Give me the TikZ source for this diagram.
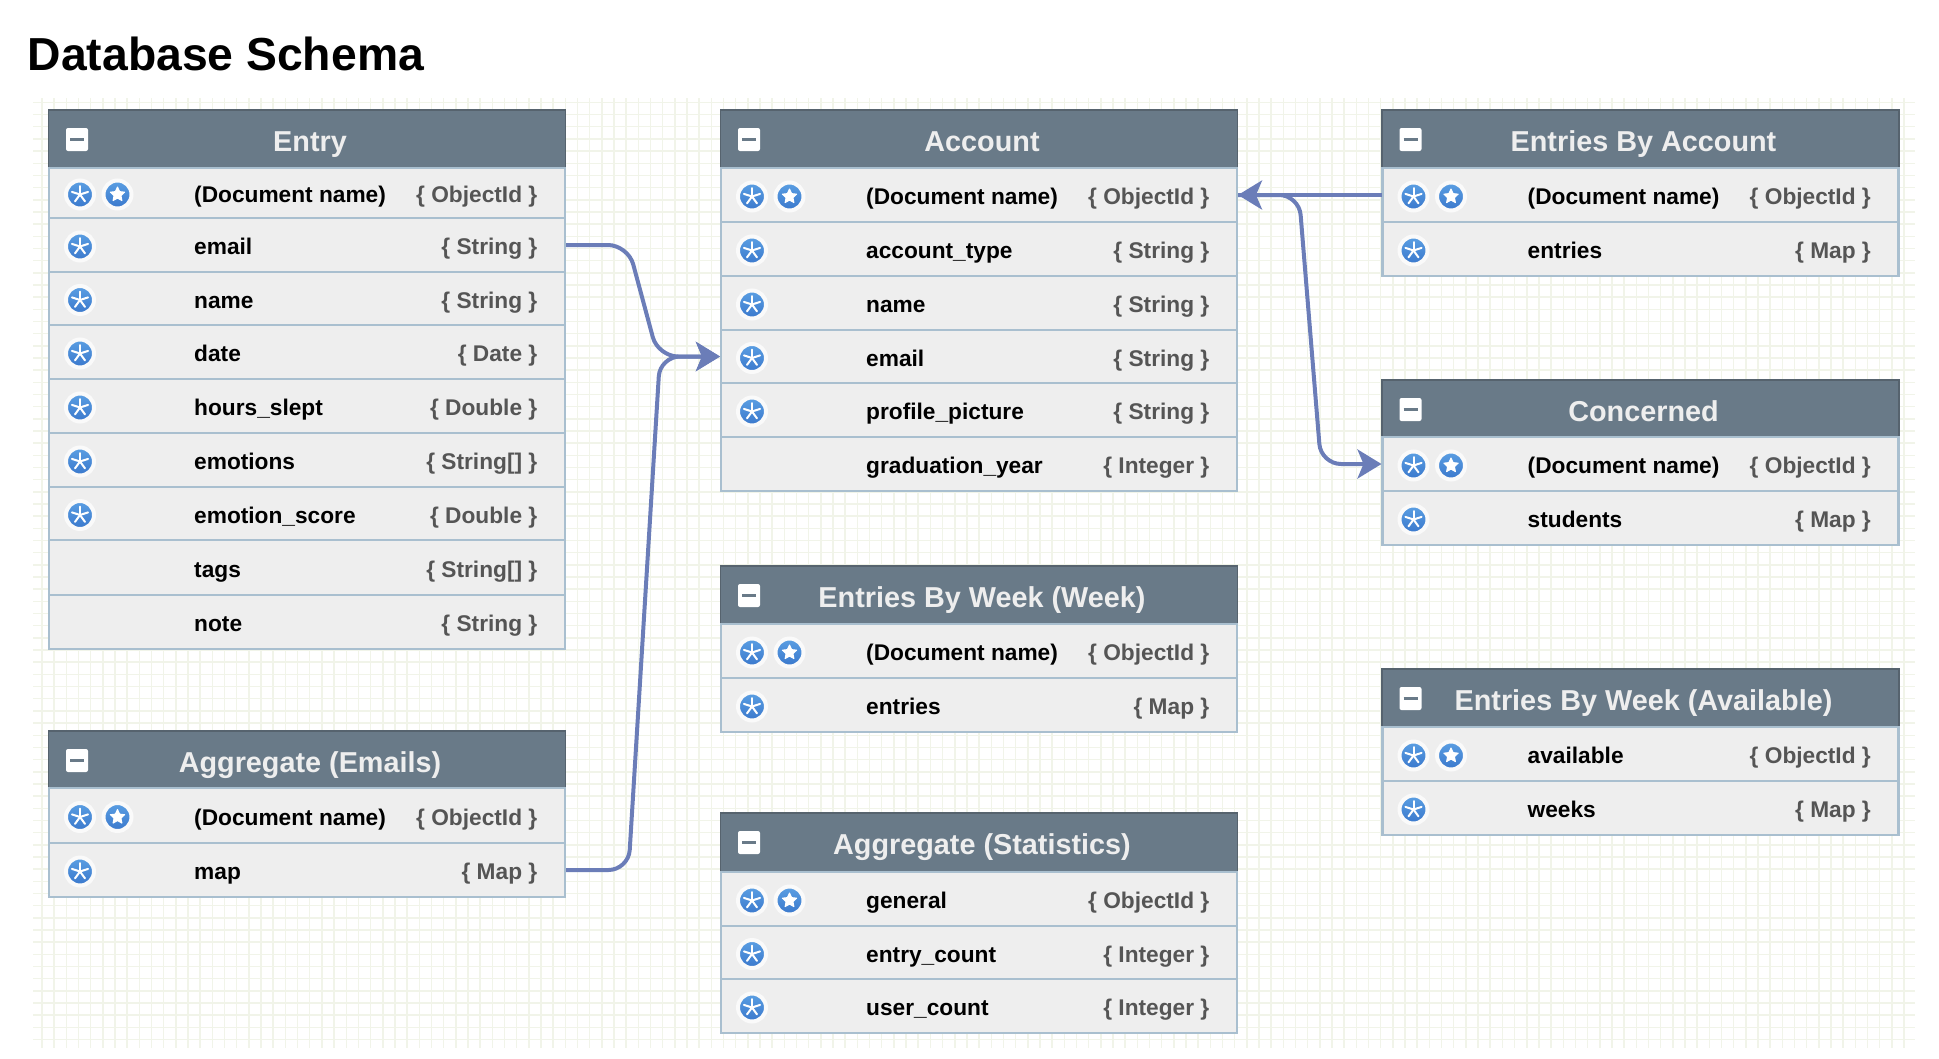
\documentclass[tikz,border=0pt]{standalone}
\usepackage{fontspec}
\setmainfont{Liberation Sans}
\usetikzlibrary{arrows.meta}
\definecolor{headc}{HTML}{697A88}
\definecolor{headedge}{HTML}{56636E}
\definecolor{rowc}{HTML}{EEEEEE}
\definecolor{rowedge}{HTML}{A9BFCF}
\definecolor{gridc}{HTML}{F1F4E9}
\definecolor{connc}{HTML}{6B7DB8}
\definecolor{typec}{HTML}{555555}
\definecolor{icontop}{HTML}{5B9FE3}
\definecolor{iconmid}{HTML}{7AB6EE}
\definecolor{iconbot}{HTML}{3A78CC}
\tikzset{
  gridline/.style={draw=gridc,line width=1.5pt},
  headbox/.style={rectangle,draw=headedge,line width=1.5pt,fill=headc,minimum width=517pt,inner sep=0pt,outer sep=0pt},
  rowbox/.style={rectangle,draw=rowedge,line width=2.5pt,fill=rowc,minimum width=516pt,inner sep=0pt,outer sep=1pt},
  headtext/.style={inner sep=0pt,anchor=base,text=rowc,font=\fontsize{28.8}{32}\selectfont\bfseries},
  nametext/.style={inner sep=0pt,anchor=base west,text=black,font=\fontsize{22.7}{27}\selectfont\bfseries},
  typetext/.style={inner sep=0pt,anchor=base east,text=typec,font=\fontsize{22.7}{27}\selectfont\bfseries},
  minusbtn/.style={rectangle,rounded corners=2pt,fill=white,minimum width=22pt,minimum height=23pt,inner sep=0pt,
    path picture={\draw[headc,line width=2.2pt] ([xshift=-7pt]path picture bounding box.center) -- ([xshift=7pt]path picture bounding box.center);}},
  iconbase/.style={circle,draw=white!70!rowc,line width=4pt,minimum size=28pt,inner sep=0pt,
    top color=icontop,middle color=iconmid,bottom color=iconbot,shading angle=0},
  asteriskicon/.style={iconbase,
    path picture={\foreach \a in {270,342,54,126,198}
      \draw[white,line width=2pt,line cap=round] (path picture bounding box.center) -- ++(\a:8.5);}},
  staricon/.style={iconbase,
    path picture={\fill[white,draw=white,line width=1pt,line join=round,shift={(path picture bounding box.center)}]
      (270:7.5)--(306:3.6)--(342:7.5)--(18:3.6)--(54:7.5)--(90:3.6)--(126:7.5)--(162:3.6)--(198:7.5)--(234:3.6)--cycle;}},
  conn/.style={draw=connc,line width=4pt,rounded corners=20pt},
  connarrow/.style={-{Stealth[length=24pt,width=29pt,inset=6pt]}},
}
% id, left x, top y, bottom y, title
\newcommand{\tblhead}[5]{%
  \pgfmathsetmacro{\hh}{#4-#3}%
  \node[headbox,minimum height=\hh pt] (#1) at ({#2+259},{(#3+#4)/2}) {};
  \node[minusbtn] (#1-btn) at ({#2+29},{#3+29.5}) {};
  \node[headtext] (#1-title) at ({#2+262},{#3+41}) {#5};
}
% id, left x, top y, bottom y, icons (0,1,2), name, type
\newcommand{\tblrow}[7]{%
  \pgfmathsetmacro{\hh}{#4-#3}%
  \node[rowbox,minimum height=\hh pt] (#1) at ({#2+259},{(#3+#4)/2}) {};
  \ifnum#5>0 \node[asteriskicon] (#1-ka) at ({#2+32},{(#3+#4)/2+1.5}) {};\fi
  \ifnum#5>1 \node[staricon] (#1-kb) at ({#2+69.5},{(#3+#4)/2+1.5}) {};\fi
  \node[nametext] (#1-name) at ({#2+146},{(#3+#4)/2+9.8}) {#6};
  \node[typetext] (#1-type) at ({#2+489.5},{(#3+#4)/2+9.8}) {\{ #7 \}};
}
\begin{document}
\begin{tikzpicture}[x=1pt,y=-1pt]
\useasboundingbox (0,0) rectangle (1939,1058);
% paper grid
\foreach \i in {0,...,153} \draw[gridline] ({42+12.17*\i},98) -- ({42+12.17*\i},1048);
\foreach \i in {0,...,77} \draw[gridline] (33,{102.4+12.17*\i}) -- (1915,{102.4+12.17*\i});
% title
\node[inner sep=0pt,anchor=base west,font=\fontsize{46.3}{50}\selectfont\bfseries] (title) at (27.5,70.5) {Database Schema};
% Entry
\tblhead{entry}{48}{110}{168}{Entry}
\tblrow{entry-doc}{48}{168}{218}{2}{(Document name)}{ObjectId}
\tblrow{entry-email}{48}{218}{272}{1}{email}{String}
\tblrow{entry-name}{48}{272}{325}{1}{name}{String}
\tblrow{entry-date}{48}{325}{379}{1}{date}{Date}
\tblrow{entry-hours}{48}{379}{433}{1}{hours\_slept}{Double}
\tblrow{entry-emo}{48}{433}{487}{1}{emotions}{String[]}
\tblrow{entry-score}{48}{487}{540}{1}{emotion\_score}{Double}
\tblrow{entry-tags}{48}{540}{595}{0}{tags}{String[]}
\tblrow{entry-note}{48}{595}{649}{0}{note}{String}
% Aggregate (Emails)
\tblhead{aggem}{48}{731}{788}{Aggregate (Emails)}
\tblrow{aggem-doc}{48}{788}{843}{2}{(Document name)}{ObjectId}
\tblrow{aggem-map}{48}{843}{897}{1}{map}{Map}
% Account
\tblhead{acct}{720}{110}{168}{Account}
\tblrow{acct-doc}{720}{168}{222}{2}{(Document name)}{ObjectId}
\tblrow{acct-type}{720}{222}{276}{1}{account\_type}{String}
\tblrow{acct-name}{720}{276}{330}{1}{name}{String}
\tblrow{acct-email}{720}{330}{383}{1}{email}{String}
\tblrow{acct-pic}{720}{383}{437}{1}{profile\_picture}{String}
\tblrow{acct-grad}{720}{437}{491}{0}{graduation\_year}{Integer}
% Entries By Week (Week)
\tblhead{ebw}{720}{566}{624}{Entries By Week (Week)}
\tblrow{ebw-doc}{720}{624}{678}{2}{(Document name)}{ObjectId}
\tblrow{ebw-entries}{720}{678}{732}{1}{entries}{Map}
% Aggregate (Statistics)
\tblhead{aggst}{720}{813}{872}{Aggregate (Statistics)}
\tblrow{aggst-gen}{720}{872}{926}{2}{general}{ObjectId}
\tblrow{aggst-entry}{720}{926}{979}{1}{entry\_count}{Integer}
\tblrow{aggst-user}{720}{979}{1033}{1}{user\_count}{Integer}
% Entries By Account
\tblhead{eba}{1381.5}{110}{168}{Entries By Account}
\tblrow{eba-doc}{1381.5}{168}{222}{2}{(Document name)}{ObjectId}
\tblrow{eba-entries}{1381.5}{222}{276}{1}{entries}{Map}
% Concerned
\tblhead{conc}{1381.5}{380}{437}{Concerned}
\tblrow{conc-doc}{1381.5}{437}{491}{2}{(Document name)}{ObjectId}
\tblrow{conc-students}{1381.5}{491}{545}{1}{students}{Map}
% Entries By Week (Available)
\tblhead{ebwa}{1381.5}{669}{727}{Entries By Week (Available)}
\tblrow{ebwa-avail}{1381.5}{727}{781}{2}{available}{ObjectId}
\tblrow{ebwa-weeks}{1381.5}{781}{835}{1}{weeks}{Map}
% connectors
\coordinate (m1a) at (628,245);
\coordinate (m1b) at (658,356.5);
\coordinate (m2a) at (628.5,870);
\coordinate (m2b) at (660,356.5);
\coordinate (m3a) at (1299,195);
\coordinate (m3b) at (1321,464);
\draw[conn,connarrow] (entry-email.east) -- (m1a) -- (m1b) -- (acct-email.west);
\draw[conn,connarrow] (aggem-map.east) -- (m2a) -- (m2b) -- (acct-email.west);
\draw[conn,connarrow] (eba-doc.west) -- (acct-doc.east);
\draw[conn,connarrow] (acct-doc.east) -- (m3a) -- (m3b) -- (conc-doc.west);
\end{tikzpicture}
\end{document}
